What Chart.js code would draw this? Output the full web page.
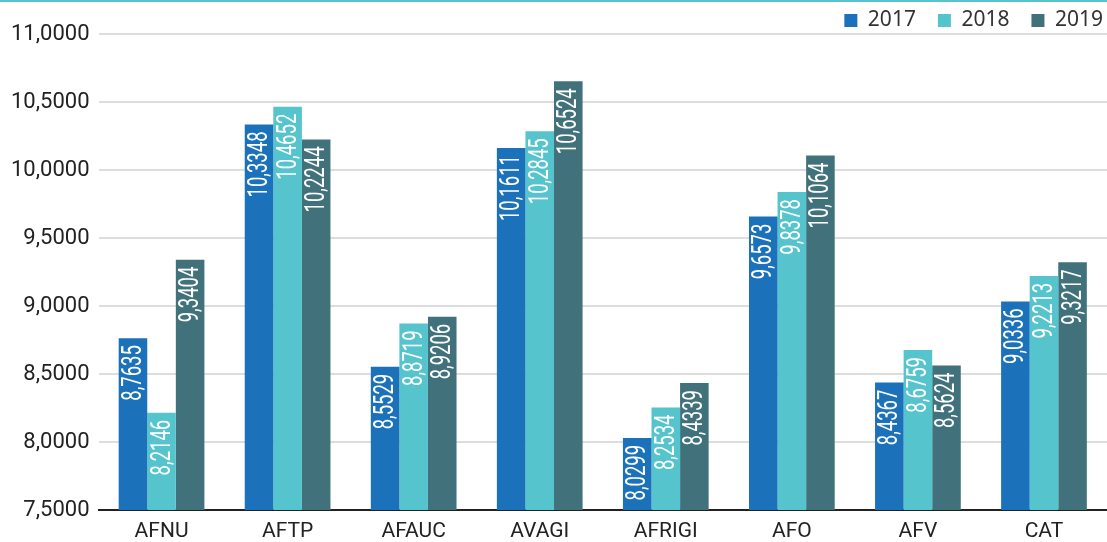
<!DOCTYPE html>
<html>
<head>
<meta charset="utf-8">
<script src="https://cdn.jsdelivr.net/npm/chart.js@4/dist/chart.umd.min.js"></script>
<style>
  html, body { margin: 0; padding: 0; background: #fff; }
  #wrap { width: 1107px; height: 540px; border-top: 2px solid #55c4cc; }
</style>
</head>
<body>
<div id="wrap"><canvas id="chartCanvas" width="1107" height="540"></canvas></div>
<script>
const categories = ["AFNU", "AFTP", "AFAUC", "AVAGI", "AFRIGI", "AFO", "AFV", "CAT"];
const years = ["2017", "2018", "2019"];
const values2017 = [8.7635, 10.3348, 8.5529, 10.1611, 8.0299, 9.6573, 8.4367, 9.0336];
const values2018 = [8.2146, 10.4652, 8.8719, 10.2845, 8.2534, 9.8378, 8.6759, 9.2213];
const values2019 = [9.3404, 10.2244, 8.9206, 10.6524, 8.4339, 10.1064, 8.5624, 9.3217];
const colors = ["#1b72bb", "#55c4cd", "#41727b"];

const fmt = v => v.toFixed(4).replace(".", ",");

// white rotated value labels inside the top of each bar
const barLabels = {
  id: "barLabels",
  afterDatasetsDraw(chart) {
    const ctx = chart.ctx;
    chart.data.datasets.forEach((ds, i) => {
      chart.getDatasetMeta(i).data.forEach((bar, j) => {
        ctx.save();
        ctx.translate(bar.x, bar.y + 7);
        ctx.rotate(-Math.PI / 2);
        ctx.scale(0.66, 1);
        ctx.font = "28px Roboto";
        ctx.fillStyle = "#fff";
        ctx.textAlign = "right";
        ctx.textBaseline = "middle";
        ctx.fillText(fmt(ds.data[j]), 0, 1);
        ctx.restore();
      });
    });
  }
};

// nudge the legend box right/down, it runs off the right edge in the original
const legendShift = {
  id: "legendShift",
  afterLayout(chart) {
    const lg = chart.legend;
    lg.left += 14; lg.right += 14;
    lg.top += 7; lg.bottom += 7;
  }
};

const ctx = document.getElementById("chartCanvas").getContext("2d");
new Chart(ctx, {
  type: "bar",
  data: {
    labels: categories,
    datasets: [
      { label: years[0], data: values2017, backgroundColor: colors[0] },
      { label: years[1], data: values2018, backgroundColor: colors[1] },
      { label: years[2], data: values2019, backgroundColor: colors[2] }
    ]
  },
  options: {
    responsive: false,
    animation: false,
    layout: { padding: { left: 2, right: -4, top: -21, bottom: 0 } },
    datasets: { bar: { barPercentage: 1, categoryPercentage: 0.68 } },
    plugins: {
      legend: {
        align: "end",
        labels: {
          boxWidth: 13,
          boxHeight: 13,
          padding: 22,
          color: "#333",
          font: { family: "Noto Sans", size: 21 }
        }
      },
      tooltip: { enabled: false }
    },
    scales: {
      y: {
        min: 7.5,
        max: 11,
        ticks: {
          stepSize: 0.5,
          padding: 9,
          color: "#222",
          font: { family: "Roboto", size: 22 },
          callback: v => fmt(v)
        },
        grid: { color: "#dddddd", lineWidth: 2, drawTicks: false },
        border: { display: false }
      },
      x: {
        afterFit: scale => { scale.height = 32; },
        ticks: { color: "#222", padding: 1, maxRotation: 0, font: { family: "Roboto", size: 21 } },
        grid: { display: false },
        border: { color: "#222", width: 2 }
      }
    }
  },
  plugins: [barLabels, legendShift]
});
</script>
</body>
</html>
